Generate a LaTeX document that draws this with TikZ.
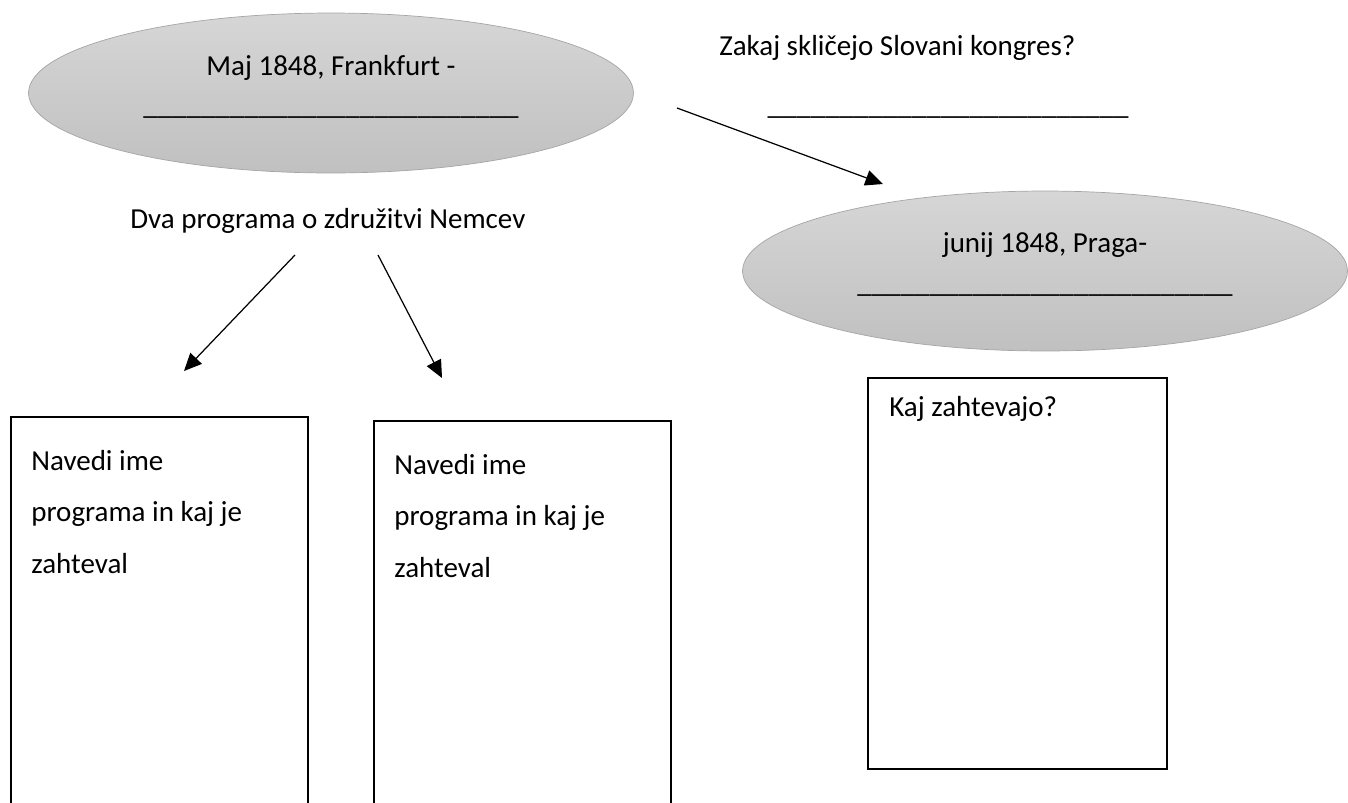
\documentclass[tikz,border=0pt]{standalone}
\usepackage{fontspec}
\setmainfont{Carlito}
\usepackage{tikz}
\usetikzlibrary{arrows.meta,shapes.geometric}
\definecolor{ovaltop}{RGB}{214,214,214}
\definecolor{ovalbot}{RGB}{192,192,192}
\definecolor{ovaledge}{RGB}{165,165,165}
\newcommand{\blanks}[1]{\foreach \k in {1,...,#1}{\_}}

\begin{document}
\begin{tikzpicture}[x=0.02cm,y=-0.02cm,
  every node/.style={font=\fontsize{16.5}{29.5}\selectfont,inner sep=0pt},
  oval/.style={ellipse,draw=ovaledge,top color=ovaltop,bottom color=ovalbot,minimum width=12.1cm,minimum height=3.2cm},
  answer/.style={rectangle,draw,line width=1.1pt,anchor=north west},
  pointer/.style={line width=0.7pt,-{Triangle[length=10pt,width=9pt]}}]
\useasboundingbox (0,0) rectangle (1348,802);
\clip (0,0) rectangle (1348,802);
\node (frankfurt) at (331,93)   [oval] {};
\node (praga)     at (1045,271) [oval] {};
\node (frankTxt)  at (331,75)   [anchor=base] {Maj 1848, Frankfurt -};
\node (frankLine) at (331,114)  [anchor=base] {\blanks{26}};
\node (pragaTxt)  at (1045,252) [anchor=base] {junij 1848, Praga-};
\node (pragaLine) at (1045,292) [anchor=base] {\blanks{26}};
\node (zakaj)     at (719,55)   [anchor=base west] {Zakaj skličejo Slovani kongres?};
\node (zakajLine) at (948,114)  [anchor=base] {\blanks{25}};
\node (dva)       at (130,228)  [anchor=base west] {Dva programa o združitvi Nemcev};
\node (prog1)     at (10,416)   [answer,minimum width=5.95cm,minimum height=8.3cm] {};
\node (prog2)     at (373,420)  [answer,minimum width=5.95cm,minimum height=8.2cm] {};
\node (zahteve)   at (867,377)  [answer,minimum width=5.98cm,minimum height=7.82cm] {};
\node (prog1Txt)  at (31,470)   [anchor=base west,text width=5.5cm,align=flush left] {Navedi ime\\programa in kaj je\\zahteval};
\node (prog2Txt)  at (394,474)  [anchor=base west,text width=5.5cm,align=flush left] {Navedi ime\\programa in kaj je\\zahteval};
\node (zahteveTxt) at (889,416) [anchor=base west] {Kaj zahtevajo?};
\coordinate (frankR)   at (677,108);
\coordinate (pragaTip) at (883,184);
\coordinate (dvaL)     at (295,255);
\coordinate (prog1Tip) at (184,371);
\coordinate (dvaR)     at (378,255);
\coordinate (prog2Tip) at (442,378);
\draw [pointer] (frankR) to (pragaTip);
\draw [pointer] (dvaL)   to (prog1Tip);
\draw [pointer] (dvaR)   to (prog2Tip);
\end{tikzpicture}
\end{document}
